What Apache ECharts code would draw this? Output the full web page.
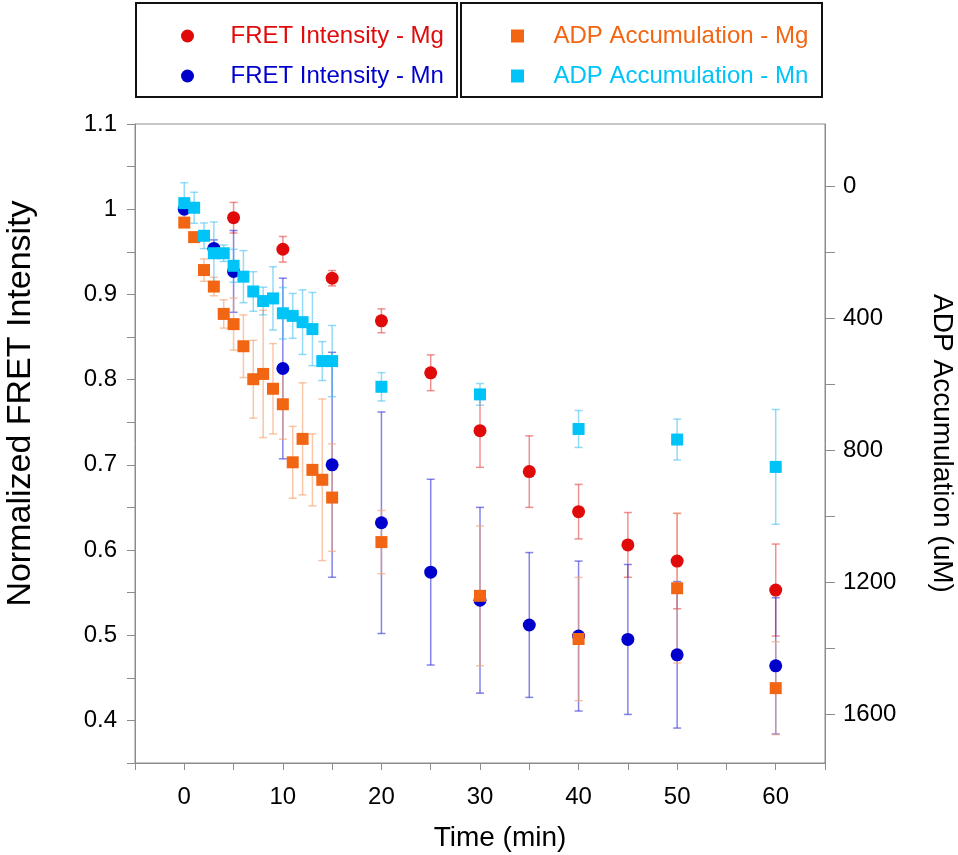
<!DOCTYPE html>
<html>
<head>
<meta charset="utf-8">
<script src="https://cdn.jsdelivr.net/npm/echarts@6/dist/echarts.min.js"></script>
<style>
html,body{margin:0;padding:0;background:#fff;}
#chart{width:958px;height:855px;}
</style>
</head>
<body>
<div id="chart"></div>
<script>
// ---- data ----
const fretMgTime = [5, 10, 15, 20, 25, 30, 35, 40, 45, 50, 60];
const fretMgValue = [0.990, 0.953, 0.919, 0.869, 0.808, 0.740, 0.692, 0.645, 0.606, 0.587, 0.553];
const fretMgErr = [0.018, 0.015, 0.009, 0.014, 0.021, 0.043, 0.042, 0.032, 0.038, 0.056, 0.054];

const fretMnTime = [0, 3, 5, 10, 15, 20, 25, 30, 35, 40, 45, 50, 60];
const fretMnValue = [1.000, 0.954, 0.927, 0.813, 0.700, 0.632, 0.574, 0.541, 0.512, 0.499, 0.495, 0.477, 0.464];
const fretMnErr = [0, 0.010, 0.048, 0.106, 0.132, 0.130, 0.109, 0.109, 0.085, 0.088, 0.088, 0.086, 0.080];

const adpTime = [0, 1, 2, 3, 4, 5, 6, 7, 8, 9, 10, 11, 12, 13, 14, 15, 20, 30, 40, 50, 60];
const adpMgValue = [109, 153, 253, 303, 386, 417, 484, 584, 568, 613, 660, 836, 765, 859, 889, 943, 1078, 1241, 1372, 1218, 1521];
const adpMgErr = [0, 12, 34, 28, 43, 79, 95, 118, 193, 137, 106, 109, 170, 109, 245, 163, 96, 212, 187, 227, 141];
const adpMnValue = [50, 64, 149, 202, 202, 240, 273, 318, 347, 339, 384, 392, 411, 432, 529, 529, 607, 630, 735, 767, 850];
const adpMnErr = [62, 47, 39, 95, 25, 50, 79, 60, 42, 96, 78, 68, 98, 111, 59, 108, 43, 33, 56, 62, 174];

const rightLabelTicks = [0, 400, 800, 1200, 1600];
const rightMinorTicks = [0, 200, 400, 600, 800, 1000, 1200, 1400, 1600];

const names = ['FRET Intensity - Mg', 'FRET Intensity - Mn', 'ADP Accumulation - Mg', 'ADP Accumulation - Mn'];
const colors = ['#e00a0a', '#0000cc', '#f26512', '#00c4f7'];
const barColors = ['rgba(232,70,70,0.6)', 'rgba(50,50,220,0.6)', 'rgba(245,160,110,0.6)', 'rgba(60,190,240,0.55)'];

function zip3(a, b, c) { return a.map((v, i) => [v, b[i], c[i]]); }
function zip2(a, b) { return a.map((v, i) => [v, b[i]]); }

function errSeries(data, color, yAxisIndex) {
  return {
    type: 'custom',
    yAxisIndex: yAxisIndex,
    silent: true,
    z: 1,
    data: data,
    renderItem: function (params, api) {
      const x = api.value(0), y = api.value(1), e = api.value(2);
      const p1 = api.coord([x, y - e]);
      const p2 = api.coord([x, y + e]);
      const hw = 4;
      const st = { stroke: color, lineWidth: 1.5 };
      return {
        type: 'group',
        children: [
          { type: 'line', shape: { x1: p1[0], y1: p1[1], x2: p2[0], y2: p2[1] }, style: st },
          { type: 'line', shape: { x1: p1[0] - hw, y1: p1[1], x2: p1[0] + hw, y2: p1[1] }, style: st },
          { type: 'line', shape: { x1: p2[0] - hw, y1: p2[1], x2: p2[0] + hw, y2: p2[1] }, style: st }
        ]
      };
    }
  };
}

const FONT = 'Liberation Sans';
const axisGray = '#8c8c8c';
const squarePath = 'path://M0,0 L10,0 L10,10 L0,10 Z';

const chart = echarts.init(document.getElementById('chart'), null, { renderer: 'canvas' });
chart.setOption({
  animation: false,
  backgroundColor: '#ffffff',
  textStyle: { fontFamily: FONT },
  grid: { left: 135, right: 133, top: 124, bottom: 92, show: true, borderColor: axisGray, borderWidth: 1,
          containLabel: false, outerBoundsMode: 'none' },
  graphic: [
    { type: 'rect', shape: { x: 136, y: 3, width: 321, height: 94 }, style: { fill: 'none', stroke: '#111', lineWidth: 2 } },
    { type: 'rect', shape: { x: 461, y: 3, width: 361, height: 94 }, style: { fill: 'none', stroke: '#111', lineWidth: 2 } }
  ],
  legend: [
    {
      orient: 'vertical', left: 176, top: 19, itemGap: 16, itemWidth: 76, itemHeight: 13,
      textStyle: { fontSize: 24, fontFamily: FONT },
      data: [
        { name: names[0], icon: 'circle', textStyle: { color: colors[0] } },
        { name: names[1], icon: 'circle', textStyle: { color: colors[1] } }
      ]
    },
    {
      orient: 'vertical', left: 506, top: 19, itemGap: 16, itemWidth: 62, itemHeight: 13,
      textStyle: { fontSize: 24, fontFamily: FONT },
      data: [
        { name: names[2], icon: squarePath, textStyle: { color: colors[2] } },
        { name: names[3], icon: squarePath, textStyle: { color: colors[3] } }
      ]
    }
  ],
  xAxis: {
    type: 'value', min: -5, max: 65, interval: 5,
    name: 'Time (min)', nameLocation: 'middle', nameGap: 61,
    nameTextStyle: { fontSize: 28, color: '#000', fontFamily: FONT, padding: [0, 0, 0, 40] },
    axisLine: { show: true, onZero: false, lineStyle: { color: axisGray } },
    axisTick: { show: true, length: 7, lineStyle: { color: axisGray } },
    axisLabel: {
      fontSize: 24, color: '#000', margin: 22, fontFamily: FONT,
      formatter: function (v) { return (Math.round(v) % 10 === 0) ? String(Math.round(v)) : ''; }
    },
    splitLine: { show: false }
  },
  yAxis: [
    {
      type: 'value', min: 0.35, max: 1.1, interval: 0.05, position: 'left',
      name: 'Normalized FRET Intensity', nameLocation: 'middle', nameGap: 97, nameRotate: 90,
      nameTextStyle: { fontSize: 34, color: '#000', fontFamily: FONT, padding: [0, 0, 0, 80] },
      axisLine: { show: true, onZero: false, lineStyle: { color: axisGray } },
      axisTick: { show: true, length: 8, lineStyle: { color: axisGray } },
      axisLabel: {
        fontSize: 24, color: '#000', margin: 18, fontFamily: FONT,
        formatter: function (v) { const k = Math.round(v * 100); return (k % 10 === 0) ? String(k / 100) : ''; }
      },
      splitLine: { show: false }
    },
    {
      type: 'value', min: -190, max: 1748, inverse: true, position: 'right',
      name: 'ADP Accumulation (uM)', nameLocation: 'middle', nameGap: 103, nameRotate: -90,
      nameTextStyle: { fontSize: 28, color: '#000', fontFamily: FONT },
      axisLine: { show: true, onZero: false, lineStyle: { color: axisGray } },
      axisTick: { show: true, length: 10, customValues: rightMinorTicks, lineStyle: { color: axisGray } },
      axisLabel: { fontSize: 24, color: '#000', margin: 18, fontFamily: FONT, customValues: rightLabelTicks,
        formatter: function (v) { return String(Math.round(v)); } },
      splitLine: { show: false }
    }
  ],
  series: [
    errSeries(zip3(fretMgTime, fretMgValue, fretMgErr), barColors[0], 0),
    errSeries(zip3(fretMnTime, fretMnValue, fretMnErr), barColors[1], 0),
    errSeries(zip3(adpTime, adpMgValue, adpMgErr), barColors[2], 1),
    errSeries(zip3(adpTime, adpMnValue, adpMnErr), barColors[3], 1),
    { name: names[0], type: 'scatter', yAxisIndex: 0, symbol: 'circle', symbolSize: 13, z: 3,
      itemStyle: { color: colors[0], opacity: 1 }, data: zip2(fretMgTime, fretMgValue) },
    { name: names[1], type: 'scatter', yAxisIndex: 0, symbol: 'circle', symbolSize: 13, z: 3,
      itemStyle: { color: colors[1], opacity: 1 }, data: zip2(fretMnTime, fretMnValue) },
    { name: names[2], type: 'scatter', yAxisIndex: 1, symbol: 'rect', symbolSize: 12, z: 4,
      itemStyle: { color: colors[2], opacity: 1 }, data: zip2(adpTime, adpMgValue) },
    { name: names[3], type: 'scatter', yAxisIndex: 1, symbol: 'rect', symbolSize: 12, z: 4,
      itemStyle: { color: colors[3], opacity: 1 }, data: zip2(adpTime, adpMnValue) }
  ]
});
</script>
</body>
</html>
